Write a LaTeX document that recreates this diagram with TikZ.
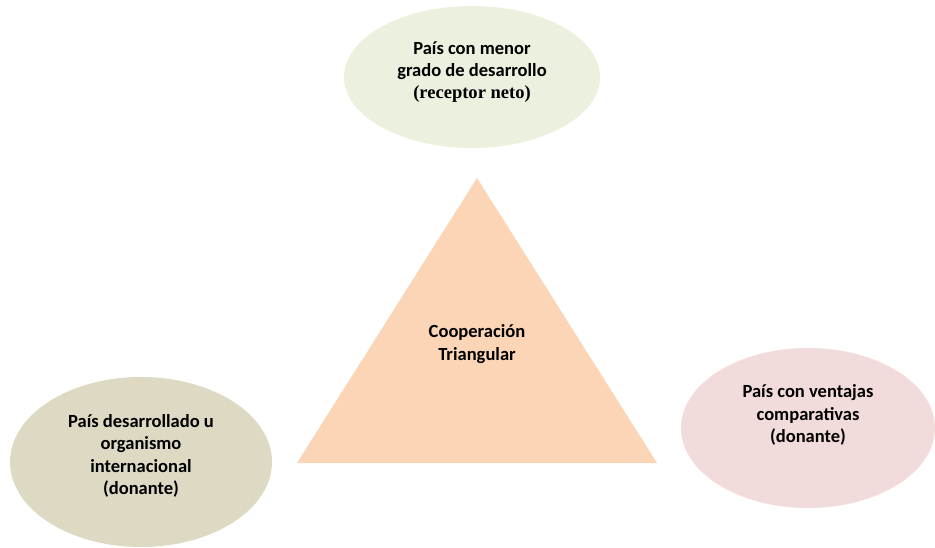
\documentclass[tikz,border=0pt]{standalone}
\usepackage{fontspec}
\setmainfont{Carlito}
\newfontfamily\serifbold{Liberation Serif}
\usetikzlibrary{shapes.geometric}

\definecolor{recepgreen}{HTML}{EBF1DE}
\definecolor{donorsand}{HTML}{DDD9C3}
\definecolor{donorrose}{HTML}{F2DCDB}
\definecolor{trianglepeach}{HTML}{FBD5B5}

\begin{document}
\begin{tikzpicture}[x=1bp,y=-1bp,
    oval/.style={ellipse,inner sep=0},
    caption/.style={align=center,font=\fontsize{18.6}{22.5}\selectfont\bfseries}]
    \useasboundingbox (0,0) rectangle (935,548);
    % ellipses
    \node[oval,fill=recepgreen,minimum width=256bp,minimum height=142bp] (receptor) at (472,77) {};
    \node[oval,fill=donorsand,minimum width=262bp,minimum height=170bp] (desarrollado) at (141,462) {};
    \node[oval,fill=donorrose,minimum width=254bp,minimum height=160bp] (ventajas) at (808,428) {};
    % triangle
    \coordinate (apex) at (477,178);
    \coordinate (baseleft) at (297,463);
    \coordinate (baseright) at (657,463);
    \fill[trianglepeach] (baseleft) -- (apex) -- (baseright) -- cycle;
    % texts
    \node[caption] (receptortext) at (472,72) {País con menor\\grado de desarrollo\\{\serifbold (receptor neto)}};
    \node[caption] (desarrolladotext) at (141,456) {País desarrollado u\\organismo\\internacional\\(donante)};
    \node[caption] (ventajastext) at (808,415) {País con ventajas\\comparativas\\(donante)};
    \node[caption] (cooperacion) at (477,344) {Cooperación\\Triangular};
\end{tikzpicture}
\end{document}
